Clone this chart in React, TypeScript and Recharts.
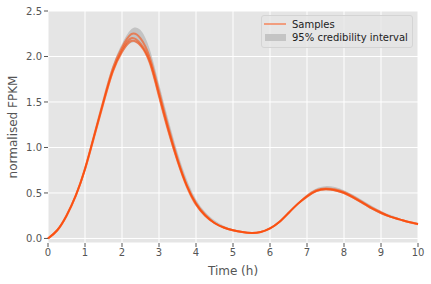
import {
  ComposedChart,
  Line,
  Area,
  CartesianGrid,
  XAxis,
  YAxis,
  Legend,
  Label,
} from "recharts";

const times = [
  0, 0.25, 0.5, 0.75, 1, 1.25, 1.5, 1.75, 2, 2.25, 2.5, 2.75, 3, 3.25, 3.5,
  3.75, 4, 4.25, 4.5, 4.75, 5, 5.25, 5.5, 5.75, 6, 6.25, 6.5, 6.75, 7, 7.25,
  7.5, 7.75, 8, 8.25, 8.5, 8.75, 9, 9.25, 9.5, 9.75, 10,
];

const sampleA = [
  0.0, 0.09, 0.25, 0.47, 0.76, 1.13, 1.5, 1.84, 2.07, 2.2, 2.14, 1.95, 1.58,
  1.2, 0.86, 0.58, 0.38, 0.25, 0.17, 0.12, 0.09, 0.07, 0.06, 0.07, 0.11, 0.18,
  0.28, 0.38, 0.46, 0.52, 0.54, 0.53, 0.5, 0.45, 0.39, 0.33, 0.28, 0.24, 0.21,
  0.18, 0.16,
];
const sampleB = [
  0.0, 0.09, 0.25, 0.47, 0.77, 1.14, 1.52, 1.87, 2.1, 2.245, 2.2, 1.99, 1.62,
  1.23, 0.88, 0.59, 0.39, 0.26, 0.17, 0.12, 0.09, 0.07, 0.06, 0.07, 0.11, 0.18,
  0.28, 0.38, 0.47, 0.53, 0.55, 0.54, 0.51, 0.46, 0.4, 0.34, 0.29, 0.24, 0.21,
  0.18, 0.16,
];
const sampleC = [
  0.0, 0.09, 0.25, 0.47, 0.76, 1.12, 1.49, 1.83, 2.05, 2.17, 2.12, 1.93, 1.56,
  1.18, 0.85, 0.57, 0.37, 0.25, 0.17, 0.12, 0.09, 0.07, 0.06, 0.07, 0.11, 0.18,
  0.28, 0.38, 0.46, 0.52, 0.54, 0.53, 0.5, 0.45, 0.39, 0.33, 0.28, 0.24, 0.21,
  0.18, 0.155,
];

const lower = [
  0.0, 0.085, 0.24, 0.46, 0.74, 1.11, 1.48, 1.82, 2.03, 2.15, 2.11, 1.91, 1.54,
  1.16, 0.83, 0.56, 0.36, 0.24, 0.16, 0.11, 0.08, 0.065, 0.055, 0.065, 0.1,
  0.17, 0.27, 0.37, 0.45, 0.51, 0.53, 0.52, 0.49, 0.44, 0.38, 0.32, 0.27, 0.23,
  0.2, 0.175, 0.155,
];
const upper = [
  0.01, 0.1, 0.26, 0.49, 0.79, 1.17, 1.55, 1.9, 2.14, 2.3, 2.29, 2.08, 1.7,
  1.31, 0.95, 0.65, 0.43, 0.29, 0.2, 0.14, 0.1, 0.08, 0.07, 0.08, 0.12, 0.19,
  0.29, 0.39, 0.48, 0.55, 0.575, 0.565, 0.53, 0.48, 0.42, 0.36, 0.3, 0.26,
  0.22, 0.19, 0.165,
];

const xTicks = [0, 1, 2, 3, 4, 5, 6, 7, 8, 9, 10];
const yTicks = [0, 0.5, 1, 1.5, 2, 2.5];

const rows = times.map((t, i) => ({
  t,
  a: sampleA[i],
  b: sampleB[i],
  c: sampleC[i],
  band: [lower[i], upper[i]],
}));

const ORANGE = "#ff4500";

function LegendBox() {
  return (
    <div
      style={{
        position: "relative",
        width: 150,
        height: 31,
        background: "rgba(229,229,229,0.8)",
        border: "1px solid #d4d4d4",
        borderRadius: 3,
        fontSize: 10,
        color: "#222",
        fontFamily: "DejaVu Sans",
      }}
    >
      <div
        style={{
          position: "absolute",
          left: 2,
          top: 7,
          width: 22,
          height: 2,
          background: ORANGE,
          opacity: 0.45,
        }}
      />
      <div style={{ position: "absolute", left: 30, top: 3, lineHeight: "12px" }}>
        Samples
      </div>
      <div
        style={{
          position: "absolute",
          left: 3,
          top: 18,
          width: 21,
          height: 7,
          background: "#c4c4c4",
        }}
      />
      <div style={{ position: "absolute", left: 30, top: 16, lineHeight: "12px" }}>
        95% credibility interval
      </div>
    </div>
  );
}

export default function App() {
  return (
    <div
      style={{ position: "absolute", left: 0, top: 0, fontFamily: "DejaVu Sans" }}
    >
      <ComposedChart
        width={431}
        height={284}
        data={rows}
        margin={{ top: 11, right: 13, left: 0, bottom: 0 }}
      >
        <CartesianGrid fill="#e5e5e5" stroke="#ffffff" strokeWidth={1} />
        <XAxis
          dataKey="t"
          type="number"
          domain={[0, 10]}
          ticks={xTicks}
          height={41}
          axisLine={false}
          tickLine={{ stroke: "#555" }}
          tickSize={4}
          tick={{ fill: "#555", fontSize: 10 }}
        >
          <Label
            value="Time (h)"
            position="center"
            dy={7}
            style={{ fill: "#555", fontSize: 12 }}
          />
        </XAxis>
        <YAxis
          type="number"
          domain={[-0.05, 2.5]}
          ticks={yTicks}
          width={48}
          axisLine={false}
          tickLine={{ stroke: "#555" }}
          tickSize={4}
          tick={{ fill: "#555", fontSize: 10 }}
          tickFormatter={(v: number) => v.toFixed(1)}
        >
          <Label
            value="normalised FPKM"
            angle={-90}
            position="center"
            dx={-11}
            style={{ fill: "#555", fontSize: 12, textAnchor: "middle" }}
          />
        </YAxis>
        <Area
          type="natural"
          dataKey="band"
          stroke="none"
          fill="#999"
          fillOpacity={0.45}
          isAnimationActive={false}
          activeDot={false}
        />
        <Line type="natural" dataKey="a" stroke={ORANGE} strokeOpacity={0.55} strokeWidth={2} dot={false} isAnimationActive={false} />
        <Line type="natural" dataKey="b" stroke={ORANGE} strokeOpacity={0.55} strokeWidth={2} dot={false} isAnimationActive={false} />
        <Line type="natural" dataKey="c" stroke={ORANGE} strokeOpacity={0.55} strokeWidth={2} dot={false} isAnimationActive={false} />
        <Legend
          layout="vertical"
          align="center"
          verticalAlign="middle"
          content={() => <LegendBox />}
          wrapperStyle={{ left: 261, top: 15, width: 152, height: 33 }}
        />
      </ComposedChart>
    </div>
  );
}
